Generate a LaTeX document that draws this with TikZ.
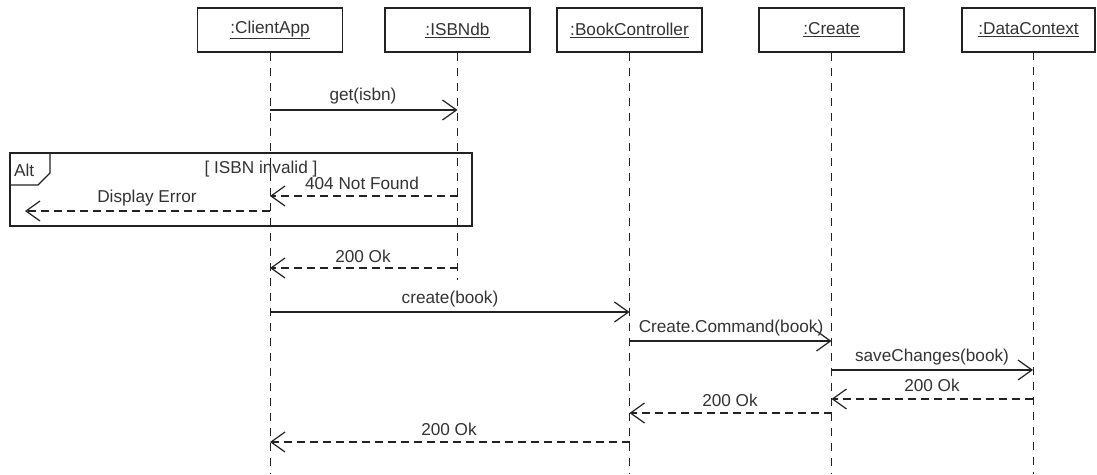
\documentclass[tikz,border=0pt]{standalone}
\usepackage{fontspec}
\setmainfont{Liberation Sans}
\usetikzlibrary{arrows.meta}
\definecolor{ink}{HTML}{222222}
\definecolor{txt}{HTML}{333333}
\begin{document}
\begin{tikzpicture}[x=1pt,y=-1pt,
  font=\fontsize{17.2}{20}\selectfont,
  head/.style={draw=ink,line width=1.2pt,minimum width=145pt,minimum height=44pt,inner sep=0pt,text=txt},
  life/.style={draw=ink,line width=1pt,dash pattern=on 8pt off 7pt},
  call/.style={draw=ink,line width=1.2pt,-{Straight Barb[length=14pt,width=20pt,line width=1.2pt]}},
  reply/.style={call,dash pattern=on 8pt off 5pt},
  lbl/.style={inner sep=0pt,text=txt}]
\useasboundingbox (0,0) rectangle (1097,474);

% lifeline headers
\node[head] (ca)  at (270,30) {\underline{:ClientApp}};
\node[head] (isb) at (457.5,30) {\underline{:ISBNdb}};
\node[head] (bc)  at (629.5,30) {\underline{:BookController}};
\node[head] (cr)  at (831.5,30) {\underline{:Create}};
\node[head,minimum width=133pt] (dc) at (1028.5,30) {\underline{:DataContext}};

% lifelines; the ISBNdb one ends after its last reply
\coordinate (bot) at (0,474);
\coordinate (isbend) at (0,280);
\coordinate (dcl) at (1033,52);
\draw[life] (ca.south)  -- (ca.south |- bot);
\draw[life] (isb.south) -- (isb.south |- isbend);
\draw[life] (bc.south)  -- (bc.south |- bot);
\draw[life] (cr.south)  -- (cr.south |- bot);
\draw[life] (dcl) -- (dcl |- bot);

% message rows
\coordinate (r1) at (0,110);
\coordinate (r2) at (0,196);
\coordinate (r3) at (0,211);
\coordinate (r4) at (0,268);
\coordinate (r5) at (0,312);
\coordinate (r6) at (0,341);
\coordinate (r7) at (0,370);
\coordinate (r8) at (0,399);
\coordinate (r9) at (0,413);
\coordinate (r10) at (0,442);
\coordinate (err) at (25,211);

% alt fragment
\draw[draw=ink,line width=1.2pt] (10,153) rectangle (472,226);
\draw[draw=ink,line width=1.2pt] (10,185) -- (38,185) -- (50,173) -- (50,153);
\node[lbl,anchor=west] (alt) at (14,170) {Alt};
\node[lbl] (guard) at (261,169) {[ ISBN invalid ]};

% messages
\draw[call]  (ca |- r1) -- (isb |- r1);
\node[lbl] (m1) at (363,96) {get(isbn)};

\draw[reply] (isb |- r2) -- (ca |- r2);
\node[lbl] (m2) at (362,183) {404 Not Found};

\draw[reply] (ca |- r3) -- (err);
\node[lbl] (m3) at (147,198) {Display Error};

\draw[reply] (isb |- r4) -- (ca |- r4);
\node[lbl] (m4) at (363,256) {200 Ok};

\draw[call]  (ca |- r5) -- (bc |- r5);
\node[lbl] (m5) at (450,299) {create(book)};

\draw[call]  (bc |- r6) -- (cr |- r6);
\node[lbl] (m6) at (731,328) {Create.Command(book)};

\draw[call]  (cr |- r7) -- (dcl |- r7);
\node[lbl] (m7) at (932,357) {saveChanges(book)};

\draw[reply] (dcl |- r8) -- (cr |- r8);
\node[lbl] (m8) at (932,385) {200 Ok};

\draw[reply] (cr |- r9) -- (bc |- r9);
\node[lbl] (m9) at (730,400) {200 Ok};

\draw[reply] (bc |- r10) -- (ca |- r10);
\node[lbl] (m10) at (449,429) {200 Ok};
\end{tikzpicture}
\end{document}
